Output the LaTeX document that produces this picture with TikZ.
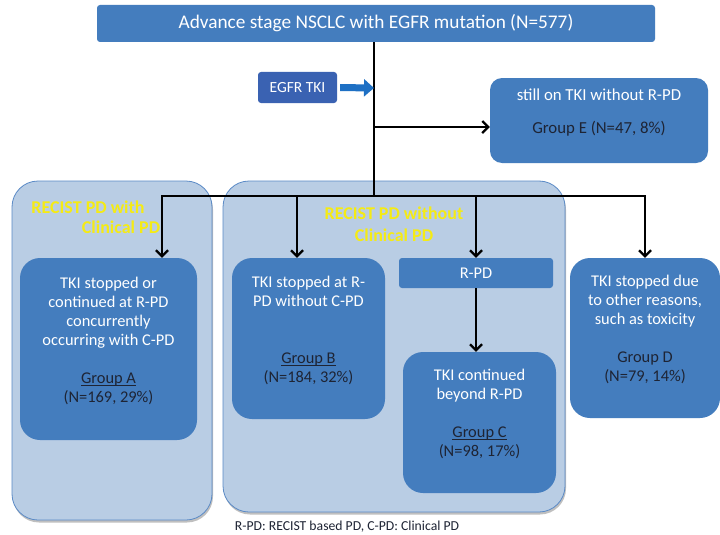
\documentclass[tikz,border=0pt]{standalone}
\usepackage{fontspec}
\setmainfont{Carlito}
\usetikzlibrary{positioning,arrows.meta,shadows,calc}
\definecolor{boxblue}{RGB}{68,125,190}
\definecolor{tkiblue}{RGB}{58,98,178}
\definecolor{arrowblue}{RGB}{30,112,196}
\definecolor{panelblue}{RGB}{185,205,228}
\definecolor{paneledge}{RGB}{90,138,198}
\definecolor{inkdark}{RGB}{30,36,52}
\definecolor{tagyellow}{RGB}{245,235,20}
\newcommand{\grpul}[1]{\setbox0\hbox{#1}\rlap{\rule[-2.2pt]{\wd0}{0.8pt}}\box0}

\begin{document}
\begin{tikzpicture}[x=1pt, y=-1pt,
    panel/.style={rectangle, rounded corners=26pt, draw=paneledge, line width=0.8pt, fill=panelblue,
                  drop shadow={shadow xshift=1pt, shadow yshift=-2.5pt, fill=black, opacity=0.25}},
    box/.style={rectangle, rounded corners=20pt, fill=boxblue, text=white, align=center, inner sep=0pt,
                font=\fontsize{16.4}{19}\selectfont},
    flat/.style={rectangle, rounded corners=3pt, fill=boxblue, text=white, align=center, inner sep=0pt},
    tag/.style={text=tagyellow, align=center, font=\bfseries\fontsize{18}{21.5}\selectfont},
    line/.style={draw=black, line width=2.2pt},
    arr/.style={line, -{Straight Barb[length=6pt,width=12pt]}},
    blockarr/.style={draw=arrowblue, line width=7pt, -{Triangle[length=10pt,width=17pt]}}]
    \useasboundingbox[fill=white] (0,0) rectangle (720,535);

    % outcome panels
    \node[panel, minimum width=200, minimum height=339] (panelA) at (112,350.5) {};
    \node[panel, minimum width=342, minimum height=331] (panelB) at (394,346.5) {};
    \node[tag] (tagA1) at (88,207) {RECIST PD with};
    \node[tag] (tagA2) at (121,227) {Clinical PD};
    \node[tag] (tagB) at (394,224) {RECIST PD without\\Clinical PD};

    % top of the flow
    \node[flat, minimum width=558, minimum height=37, font=\fontsize{19.3}{22}\selectfont] (title) at (376,23.5)
        {Advance stage NSCLC with EGFR mutation (N=577)};
    \node[flat, fill=tkiblue, minimum width=79, minimum height=31, font=\fontsize{15.5}{18}\selectfont] (tki) at (297.5,87.5)
        {EGFR TKI};
    \node[box, rounded corners=12pt, minimum width=218, minimum height=85, font=\fontsize{16.8}{19}\selectfont] (grpE) at (599,120.5)
        {still on TKI without R-PD\\[14pt]\textcolor{inkdark}{Group E (N=47, 8\%)}\\\mbox{}};

    % groups
    \node[box, minimum width=177, minimum height=182] (grpA) at (108.5,349)
        {TKI stopped or\\continued at R-PD\\concurrently\\occurring with C-PD\\[19pt]
         \textcolor{inkdark}{\grpul{Group A}}\\\textcolor{inkdark}{(N=169, 29\%)}\\\mbox{}};
    \node[box, minimum width=153, minimum height=161] (grpB) at (308.5,338.5)
        {TKI stopped at R-\\PD without C-PD\\[38pt]
         \textcolor{inkdark}{\grpul{Group B}}\\\textcolor{inkdark}{(N=184, 32\%)}\\\mbox{}};
    \node[flat, minimum width=154, minimum height=30, font=\fontsize{16.4}{19}\selectfont] (rpd) at (476,273) {R-PD};
    \node[box, minimum width=153, minimum height=141] (grpC) at (479.5,422.5)
        {TKI continued\\beyond R-PD\\[19pt]
         \textcolor{inkdark}{\grpul{Group C}}\\\textcolor{inkdark}{(N=98, 17\%)}\\\mbox{}};
    \node[box, minimum width=150, minimum height=160] (grpD) at (645,338)
        {TKI stopped due\\to other reasons,\\such as toxicity\\[19pt]
         \textcolor{inkdark}{Group D}\\\textcolor{inkdark}{(N=79, 14\%)}\\\mbox{}};

    \node[text=inkdark, font=\fontsize{13.7}{16}\selectfont] (note) at (347,527)
        {R-PD: RECIST based PD, C-PD: Clinical PD};

    % connectors
    \coordinate (split) at (374,127);
    \coordinate (bar) at (374,196);
    \coordinate (tkihit) at (374,88);
    \draw[line] (title.south -| bar) -- (bar);
    \draw[blockarr, shorten <=3pt] (tki.east) -- (tkihit);
    \draw[arr] (split) -- (split -| grpE.west);
    \draw[arr] (bar) -| ([xshift=53.5pt]grpA.north);
    \draw[arr] (bar) -| ([xshift=-11.5pt]grpB.north);
    \draw[arr] (bar) -| (rpd.north);
    \draw[arr] (bar) -| (grpD.north);
    \draw[arr] (rpd.south) -- (rpd.south |- grpC.north);
\end{tikzpicture}
\end{document}
